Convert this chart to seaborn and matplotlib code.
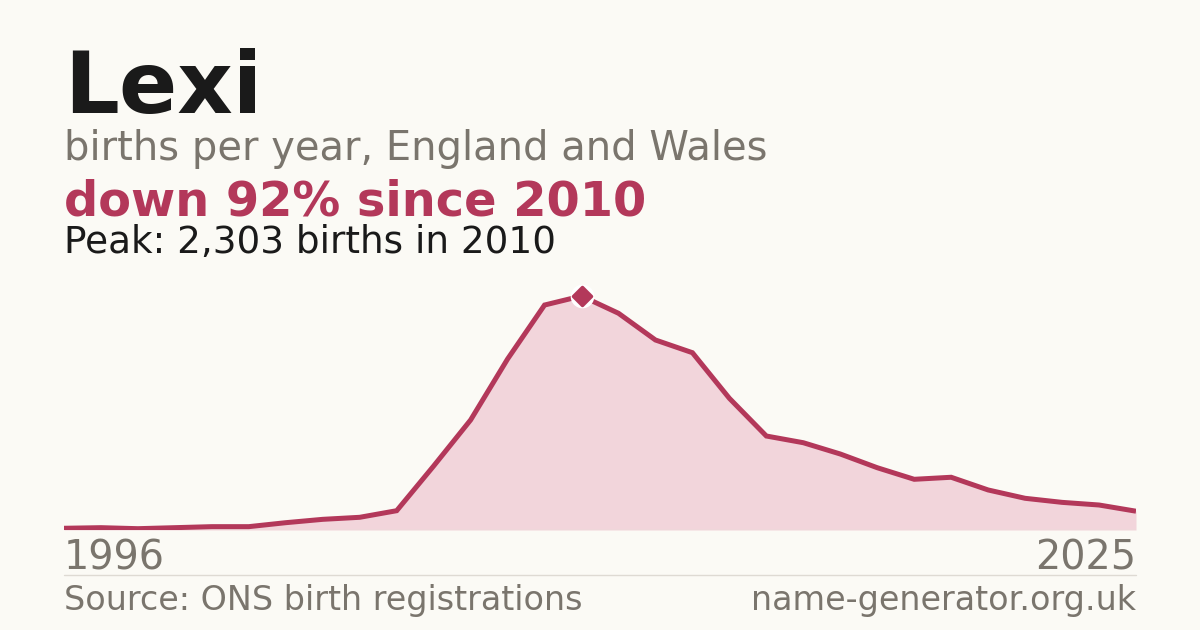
import matplotlib
matplotlib.use("Agg")
import matplotlib.pyplot as plt
import seaborn as sns
import pandas as pd
from matplotlib.lines import Line2D
from matplotlib.markers import MarkerStyle

years = list(range(1996, 2026))
births = [17, 23, 13, 23, 33, 33, 72, 105, 125, 190, 630, 1083, 1683, 2214, 2303,
          2133, 1870, 1745, 1296, 925, 859, 748, 613, 499, 519, 394, 312, 272, 246, 185]

name = "Lexi"
subtitle = "births per year, England and Wales"
headline = "down 92% since 2010"
peak_text = "Peak: 2,303 births in 2010"
source = "Source: ONS birth registrations"
site = "name-generator.org.uk"

BG = "#fbfaf5"
RED = "#b3385a"
FILL = "#f2d5db"
GRAY = "#7a756d"
DARK = "#1a1a1a"

sns.set_theme(style="white")
plt.rcParams["font.family"] = ["DejaVu Sans"]

df = pd.DataFrame({"year": years, "births": births})
W, H = 1200, 630
fig = plt.figure(figsize=(12, 6.3), dpi=100, facecolor=BG)

def fx(px):
    return px / W

def fy(py):
    return 1 - py / H

ax = fig.add_axes([fx(64), fy(530), fx(1136) - fx(64), (530 - 280) / H])
ax.set_facecolor(BG)
ax.fill_between(df["year"], df["births"], 0, color=FILL, linewidth=0, zorder=1)
sns.lineplot(data=df, x="year", y="births", ax=ax, color=RED, linewidth=3.6,
             zorder=3, solid_joinstyle="miter", solid_capstyle="butt")
ax.axhline(0, color="#e6e0da", linewidth=1, zorder=2)

pi = births.index(max(births))
ax.plot([years[pi]], [births[pi]], marker="o", markersize=17, color="white",
        markeredgewidth=0, zorder=5, clip_on=False)
ax.plot([years[pi]], [births[pi]], marker=MarkerStyle("D", joinstyle="round"),
        markersize=9.5, color=RED, markeredgecolor=RED, markeredgewidth=2.5,
        zorder=6, clip_on=False)

ax.set_xlim(years[0], years[-1])
ax.set_ylim(0, max(births) * 250 / 234)
ax.axis("off")

fig.text(fx(64), fy(113), name, fontsize=62, fontweight="bold", color=DARK, va="baseline", ha="left")
fig.text(fx(64), fy(160), subtitle, fontsize=28.8, color=GRAY, va="baseline", ha="left")
fig.text(fx(64), fy(215), headline, fontsize=34.5, fontweight="bold", color=RED, va="baseline", ha="left")
fig.text(fx(64), fy(253), peak_text, fontsize=26.9, color=DARK, va="baseline", ha="left")

fig.text(fx(64), fy(570), str(years[0]), fontsize=28.6, color=GRAY, va="baseline", ha="left")
fig.text(fx(1136), fy(570), str(years[-1]), fontsize=28.6, color=GRAY, va="baseline", ha="right")

fig.add_artist(Line2D([fx(64), fx(1136)], [fy(574.5), fy(574.5)], color="#dedad3", linewidth=1))

fig.text(fx(64), fy(610), source, fontsize=24, color=GRAY, va="baseline", ha="left")
fig.text(fx(1136), fy(610), site, fontsize=24, color=GRAY, va="baseline", ha="right")

fig.savefig("out.png", dpi=100, facecolor=BG)
